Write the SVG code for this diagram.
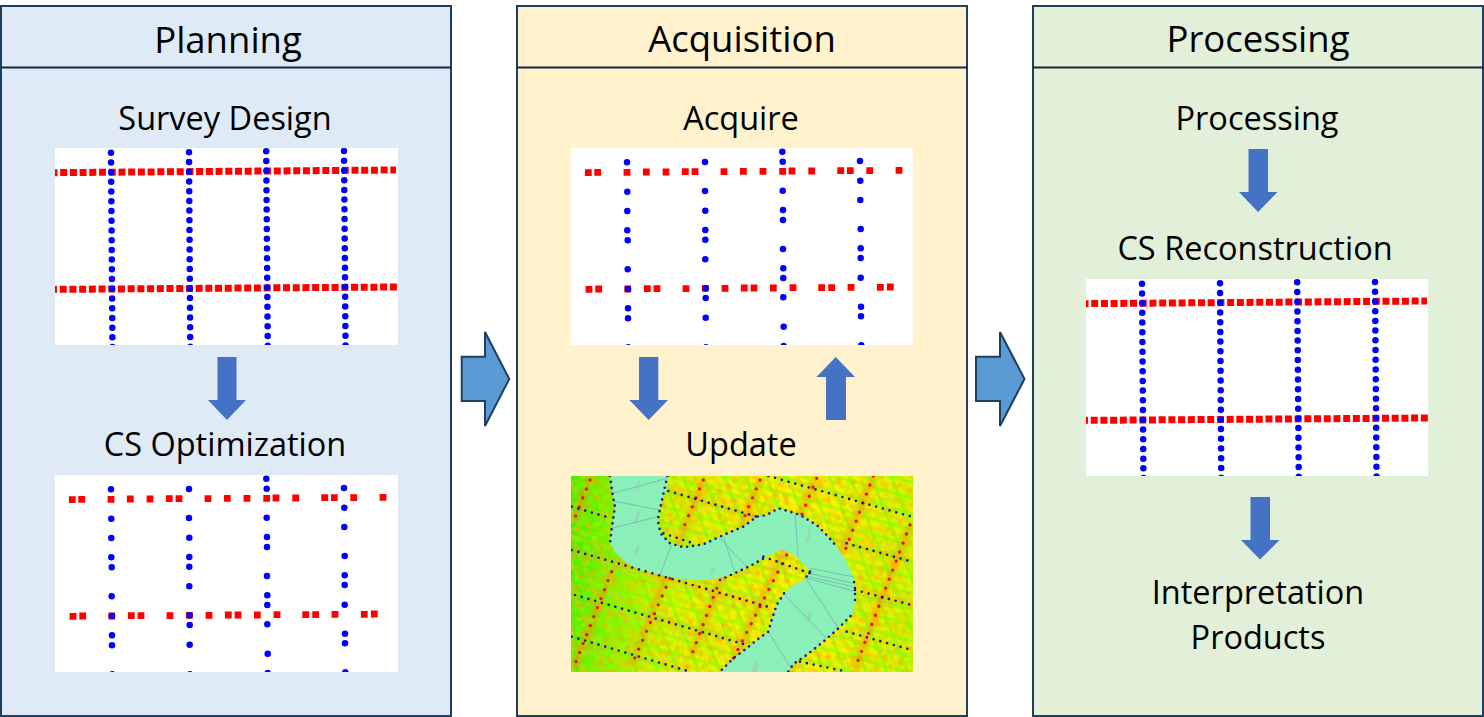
<svg xmlns="http://www.w3.org/2000/svg" width="1484" height="717" viewBox="0 0 1484 717">
<style>
.panel{stroke:#1f3f5f;stroke-width:2}
.head{stroke:#14293f;stroke-width:2}
text{font-family:"Open Sans","Noto Sans","Liberation Sans",sans-serif;fill:#000;text-anchor:middle}
.t{font-size:36.5px}
.s{font-size:32.5px}
.big{fill:#5b9bd5;stroke:#1f3f5f;stroke-width:2;stroke-linejoin:miter}
.small{fill:#4472c4}
.rd{fill:none;stroke:#f00;stroke-width:7;stroke-dasharray:7 2.71}
.bd{fill:none;stroke:#00f;stroke-width:6.5;stroke-linecap:round;stroke-dasharray:0 9.72}
.rs2{fill:none;stroke:#f00;stroke-width:6.8;stroke-linecap:square}
.bs{fill:none;stroke:#00f;stroke-width:6.5;stroke-linecap:round}
.nv{fill:none;stroke:#1c1c8c;stroke-width:8;stroke-linecap:round;stroke-dasharray:0 21}
.edge{fill:none;stroke:#1c1c8c;stroke-width:8;stroke-linecap:round;stroke-dasharray:0 18}
.rl{fill:none;stroke:#e01414;stroke-width:10;stroke-linecap:round;stroke-dasharray:0 29}
.hot{fill:none;stroke:#ff8a00;stroke-width:22;opacity:.5}
.thin{fill:none;stroke:#6c8cb4;stroke-width:2;opacity:.75}
</style>
<defs>
<clipPath id="c"><rect width="343" height="197"/></clipPath>
<clipPath id="c2"><rect width="342" height="197"/></clipPath>
<clipPath id="hc"><rect x="33" y="33" width="1026" height="588"/></clipPath>
<g id="dense" clip-path="url(#c)">
<rect width="343" height="197" fill="#fff"/>
<path class="rd" d="M-4.500 24.7L341 22"/>
<path class="rd" d="M-5 141.4L342 139"/>
<path class="bd" d="M56 4.7L57.5 204"/>
<path class="bd" d="M134 4.3L135.3 204"/>
<path class="bd" d="M211.2 3.3L212.8 204"/>
<path class="bd" d="M289 3L290.6 204"/>
</g>
<g id="sparse" clip-path="url(#c)">
<rect width="343" height="197" fill="#fff"/>
<path class="rs2" d="M17.3 24.7h0M26.7 24.3h0M56 24.3h0M75.3 24h0M95 24h0M114.3 23.7h0M124 23.7h0M153 23.7h0M172.3 23.3h0M192 23.3h0M211.7 23.3h0M221 23h0M240.7 23h0M269.7 22.7h0M279.3 22.7h0M298.7 22.7h0M328 22.3h0"/>
<path class="rs2" d="M18 141.3h0M27.7 141h0M56.7 141h0M76.3 140.7h0M86 140.7h0M115 140.7h0M134.3 140.3h0M154 140.3h0M173.3 140h0M183 140h0M202.3 140h0M222 139.7h0M250.7 139.7h0M260.7 139.7h0M280 139.3h0M309.3 139.3h0M319.3 139h0"/>
<path class="bs" d="M56 14.3h0M56.3 43.7h0M56.3 63h0M56.3 82.3h0M56.7 92.3h0M56.7 121.3h0M57 141h0M57 160.3h0M57 170.3h0M57.3 199.3h0"/>
<path class="bs" d="M134 14h0M134 43h0M134.3 62.7h0M134.3 82h0M134.3 91.7h0M134.3 111.3h0M134.7 140.3h0M134.7 150h0M134.7 169.7h0M135 199.3h0"/>
<path class="bs" d="M211.3 3.7h0M211.7 13.7h0M211.7 42.7h0M212 62h0M212 72h0M212 101h0M212.3 120.3h0M212.3 130h0M212.3 149.3h0M212.7 178.7h0M212.7 198h0"/>
<path class="bs" d="M289 13h0M289.3 32.7h0M289.3 52h0M289.7 81h0M289.7 100.3h0M289.7 110h0M289.7 129.7h0M290 158.7h0M290 168.3h0M290.3 197.3h0"/>
</g>
<linearGradient id="base" gradientUnits="userSpaceOnUse" x1="33" y1="300" x2="1059" y2="400">
<stop offset="0" stop-color="#40f000"/>
<stop offset=".12" stop-color="#80f400"/>
<stop offset=".3" stop-color="#dcf800"/>
<stop offset=".7" stop-color="#fff400"/>
<stop offset="1" stop-color="#d0f800"/>
</linearGradient>
<pattern id="pl1" width="58" height="58" patternUnits="userSpaceOnUse" patternTransform="rotate(-22)">
<rect x="6" width="10" height="58" fill="#ffc000" opacity=".35"/>
<rect x="34" width="10" height="58" fill="#70f400" opacity=".45"/>
</pattern>
<pattern id="pl2" width="46" height="46" patternUnits="userSpaceOnUse" patternTransform="rotate(16)">
<rect y="8" width="46" height="9" fill="#ffc000" opacity=".25"/>
<rect y="30" width="46" height="9" fill="#70f400" opacity=".4"/>
</pattern>
<filter id="n1" x="0" y="0" width="1" height="1" color-interpolation-filters="sRGB">
<feTurbulence type="fractalNoise" baseFrequency=".07" numOctaves="1" seed="7"/>
<feColorMatrix values="0 0 0 0 1 0 0 0 0 .66 0 0 0 0 0 5 0 0 0 -2.9"/>
<feMorphology operator="dilate" radius="3"/>
</filter>
<filter id="n2" x="0" y="0" width="1" height="1" color-interpolation-filters="sRGB">
<feTurbulence type="fractalNoise" baseFrequency=".07" numOctaves="1" seed="21"/>
<feColorMatrix values="0 0 0 0 .55 0 0 0 0 1 0 0 0 0 0 0 5 0 0 -2.8"/>
<feMorphology operator="dilate" radius="3"/>
</filter>
<filter id="b"><feGaussianBlur stdDeviation="6"/></filter>
</defs>

<g id="panel-planning">
<rect class="panel" x="1" y="6" width="450" height="710" fill="#deeaf6"/>
<path class="head" d="M1 67.500H451"/>
<text class="t" x="228" y="53">Planning</text>
<text class="s" x="225" y="130">Survey Design</text>
<use href="#dense" x="55" y="148"/>
<path id="arrow-planning" class="small" d="M217.500 357H236.500V400H246L227 420 208 400H217.500Z"/>
<text class="s" x="225" y="456">CS Optimization</text>
<use href="#sparse" x="55" y="475"/>
</g>

<g id="panel-acquisition">
<rect class="panel" x="517" y="6" width="450" height="710" fill="#fff2cc"/>
<path class="head" d="M517 67.500H967"/>
<text class="t" x="742" y="52">Acquisition</text>
<text class="s" x="741" y="130">Acquire</text>
<g transform="translate(571 148)" clip-path="url(#c2)"><use href="#sparse"/></g>
<path id="arrow-acq-down" class="small" d="M639 357H658.300V400H668L648.700 420 629.300 400H639Z"/>
<path id="arrow-acq-up" class="small" d="M826 420H846V377H855L835.700 357 816.500 377H826Z"/>
<text class="s" x="741" y="456">Update</text>
<g id="update-map" transform="translate(560 465) scale(.33333)" clip-path="url(#hc)">
<rect x="33" y="33" width="1026" height="588" fill="url(#base)"/>
<rect x="33" y="33" width="1026" height="588" fill="url(#pl1)"/>
<rect x="33" y="33" width="1026" height="588" fill="url(#pl2)"/>
<g filter="url(#b)">
<path class="hot" d="M430 45L215 600M600 45L395 570M770 40L520 590M940 33L690 620M1050 180L885 610M90 40L40 170M155 320L40 610"/>
<path class="hot" style="opacity:.25" d="M320 75L1055 290M35 255L640 430M270 455L560 540M885 375L1055 420"/>
</g>
<rect x="33" y="33" width="1026" height="588" filter="url(#n1)" opacity=".6"/>
<rect x="33" y="33" width="1026" height="588" filter="url(#n2)" opacity=".55"/>
<path id="river" fill="#8aefb8" d="M150 33L158 90 165 125 155 190 150 235 165 262 200 295 240 315 300 330 350 340 400 345 450 345 490 335 530 322 570 303 620 275 660 255 690 262 720 285 745 315 750 320 735 342 700 360 672 385 650 420 635 465 625 500 590 525 560 550 520 580 480 620H685L700 597 740 570 790 530 830 495 860 465 880 445 885 405 885 370 880 335 860 290 830 245 800 210 770 180 720 150 690 140 655 130 620 150 590 155 550 185 490 210 430 238 370 247 330 235 305 210 295 180 295 155 305 110 322 70 322 33Z"/>
<g fill="#9cc8b8" opacity=".55">
<path d="M225 70l12-30 6 6-10 28zM222 170l12-35 8 5-12 32zM222 265l10-25 6 5-10 24zM450 325l12-20 6 5-10 20zM575 620l10-35 14 10-6 25zM735 470l12-25 8 6-10 24zM735 230l14-40 6 6-12 36z"/>
</g>
<path class="thin" d="M158 85L322 40M160 108L300 135M155 190L295 155M335 240L300 330M490 215L525 322M480 220L560 305M705 150L715 275M740 345L835 490M670 385L800 520M625 500L690 605M750 310L880 335M750 325L880 355M745 335L880 365M740 340L880 378"/>
<path class="rl" d="M90 45L40 170M430 45L370 190M600 45L545 175M770 40L725 150M940 33L850 270M1050 180L885 610M155 320L40 610M330 340L215 600M470 370L395 570M680 270L520 580"/>
<path class="nv" d="M325 78L590 155M625 33L1055 155M35 125L155 160M310 205L400 235M35 255L640 430M45 390L560 540M35 515L380 617M860 235L1055 290M610 275L750 325M885 375L1055 420M860 500L1055 555M720 590L860 620"/>
<path class="edge" d="M150 33L158 90 165 125 155 190 150 235M322 33L305 110 295 155 295 180 305 210 330 235 370 247 430 238 490 210 550 185 590 155 620 150 655 130 690 140 720 150 770 180 800 210 830 245M480 345L530 322 570 303 620 275M750 320L735 342M672 385L650 420 635 465 625 500 590 525 560 550 520 580 480 620M685 620L700 597 740 570 790 530 830 495 860 465 880 445M885 405L885 370 880 335"/>
</g>
</g>

<g id="panel-processing">
<rect class="panel" x="1033" y="6" width="450" height="710" fill="#e2f0d9"/>
<path class="head" d="M1033 67.500H1483"/>
<text class="t" x="1258" y="52">Processing</text>
<text class="s" x="1257" y="130">Processing</text>
<path id="arrow-proc-1" class="small" d="M1248.500 149H1268V192H1277.500L1258 212 1239 192H1248.500Z"/>
<text class="s" x="1255" y="260">CS Reconstruction</text>
<g transform="translate(1086 279)" clip-path="url(#c2)"><use href="#dense"/></g>
<path id="arrow-proc-2" class="small" d="M1250.500 497H1270V540H1279.500L1260 559.500 1241 540H1250.500Z"/>
<text class="s" x="1258" y="604">Interpretation</text>
<text class="s" x="1258" y="649">Products</text>
</g>

<g id="connectors">
<path class="big" d="M461.700 356.700H485V332L509.300 379 485 426V401H461.700Z"/>
<path class="big" d="M976 356.700H1000V332L1024.500 379 1000 426V401H976Z"/>
</g>
</svg>
